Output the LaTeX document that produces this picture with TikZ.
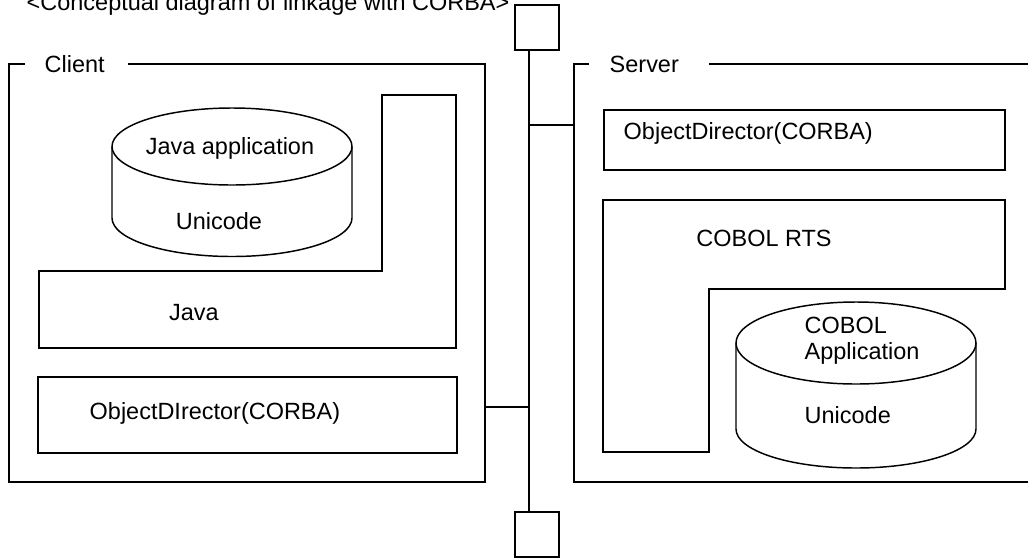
\documentclass[tikz,border=0pt]{standalone}
\usepackage{fontspec}
\setmainfont{Liberation Sans}

\begin{document}
\begin{tikzpicture}[x=0.75pt,y=0.75pt,yscale=-1,xscale=1,line width=1.1pt,
  txt/.style={inner sep=0.75pt, font=\fontsize{17.6}{19.5}\selectfont},
  busbox/.style={draw, minimum width=33pt, minimum height=33.75pt, inner sep=0pt}]
\useasboundingbox (0,0) rectangle (1028,558);

% Text Node
\draw (25,10) node [anchor=base west, txt] (title) {<Conceptual diagram of linkage with CORBA>};

%Shape: Square [id:bus top]
\node [busbox] (busTop) at (537,27.5) {};
%Shape: Square [id:bus bottom]
\node [busbox] (busBot) at (537,534.5) {};
\coordinate (busx) at (529,0);
%Straight Lines [id:bus]
\draw (busTop.south -| busx) -- (busBot.north -| busx);

%Shape: Frame [id:client]
\draw (25,64) -- (9,64) -- (9,482) -- (485,482) -- (485,64) -- (128,64);
% Text Node
\draw (43,64) node [anchor=west, txt] (clientlbl) {Client};
\coordinate (cliport) at (485,407);
%Straight Lines [id:client to bus]
\draw (cliport) -- (cliport -| busx);

%Shape: Polygon [id:java]
\draw (382,95) -- (456,95) -- (456,348) -- (39,348) -- (39,271) -- (382,271) -- cycle;
% Text Node
\draw (194,313) node [txt] (java) {Java};

%Shape: Can [id:java application]
\draw (232,146.5) ellipse (120 and 38.5);
\draw (112,146.5) -- (112,218) arc (180:0:120 and 38.5) -- (352,146.5);
% Text Node
\draw (230,148) node [txt] (javaapp) {Java application};
% Text Node
\draw (219,221) node [txt] (javauni) {Unicode};

%Shape: Rectangle [id:client corba]
\draw (38,377) rectangle (457,453);
% Text Node
\draw (88,413) node [anchor=west, txt] (cliorb) {ObjectDIrector(CORBA)};

%Shape: Frame [id:server]
\draw (589,64) -- (574,64) -- (574,482) -- (1028,482);
\draw (709,64) -- (1028,64);
% Text Node
\draw (608,64) node [anchor=west, txt] (serverlbl) {Server};
\coordinate (srvport) at (574,125);
%Straight Lines [id:bus to server]
\draw (srvport -| busx) -- (srvport);

%Shape: Rectangle [id:server corba]
\draw (604,110) rectangle (1005,170);
% Text Node
\draw (622,133) node [anchor=west, txt] (srvorb) {ObjectDirector(CORBA)};

%Shape: Polygon [id:cobol rts]
\draw (603,200) -- (1005,200) -- (1005,289) -- (709,289) -- (709,452) -- (603,452) -- cycle;
% Text Node
\draw (764,238) node [txt] (rts) {COBOL RTS};

%Shape: Can [id:cobol application]
\draw (856,343) ellipse (120 and 41);
\draw (736,343) -- (736,429) arc (180:0:120 and 39) -- (976,343);
% Text Node
\draw (803,341) node [anchor=west, txt, align=left] (cobolapp) {COBOL\\Application};
% Text Node
\draw (803,415) node [anchor=west, txt] (coboluni) {Unicode};

\end{tikzpicture}
\end{document}
